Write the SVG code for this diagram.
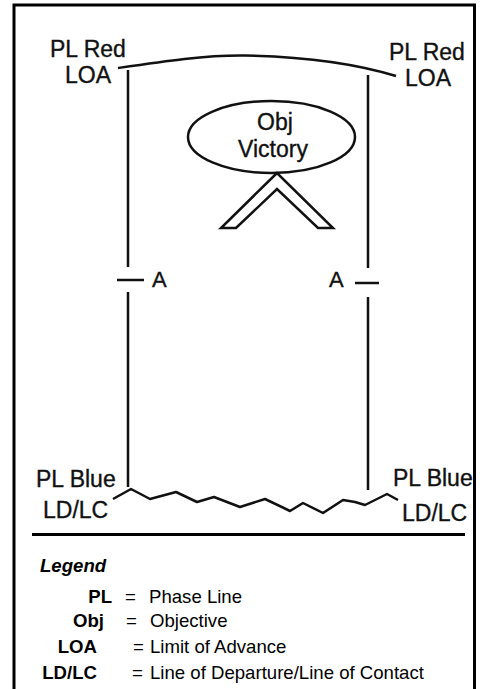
<svg xmlns="http://www.w3.org/2000/svg" width="484" height="689" viewBox="0 0 484 689">
<style>
.lbl{font-family:"Liberation Sans",Arial,sans-serif;font-size:23px;fill:#111;stroke:#111;stroke-width:0.35}
.a{font-family:"Liberation Sans",Arial,sans-serif;font-size:22px;fill:#111;stroke:#111;stroke-width:0.35}
.ln{fill:none;stroke:#111;stroke-width:2.5;stroke-linejoin:round;stroke-linecap:butt}
.lg{font-family:"Liberation Sans",Arial,sans-serif;font-size:18.6px;fill:#000}
.b{font-weight:bold}
</style>
<rect width="484" height="689" fill="#fff"/>
<g id="frame">
<path d="M14,689 V5 H474.5 V689" fill="none" stroke="#000" stroke-width="3"/>
<line x1="32" y1="534.5" x2="465" y2="534.5" stroke="#000" stroke-width="3"/>
</g>
<g id="connectors">
<path class="ln" d="M118,68 C165,61 205,55 245,55.5 C300,56.5 350,62 396,76"/>
<path class="ln" d="M128,70 V267 M128,292 V487"/>
<line class="ln" x1="117" y1="280" x2="144" y2="280"/>
<path class="ln" d="M368,75 V268 M368,297 V490"/>
<line class="ln" x1="355" y1="283" x2="379" y2="283"/>
<path class="ln" d="M113,499 L131,489 L150,499 L176,492 L197,502 L214,497 L240,507 L265,499 L290,511 L303,503 L323,513 L343,500 L355,502 L365,505 L387,494 L398,500"/>
</g>
<g id="pl-red-left">
<text class="lbl" x="50" y="57">PL Red</text>
<text class="lbl" x="65" y="83">LOA</text>
</g>
<g id="pl-red-right">
<text class="lbl" x="389" y="60">PL Red</text>
<text class="lbl" x="405" y="86">LOA</text>
</g>
<g id="obj-victory">
<ellipse cx="271.5" cy="137" rx="83.5" ry="36" fill="none" stroke="#111" stroke-width="2.5"/>
<text class="lbl" x="275" y="130" text-anchor="middle">Obj</text>
<text class="lbl" x="273" y="157" text-anchor="middle">Victory</text>
</g>
<g id="attack-arrow">
<polygon points="277,173 221,228 236,228 277,189 318,228 333,228" fill="#fff" stroke="#111" stroke-width="2.5" stroke-linejoin="miter"/>
</g>
<g id="axis-a-left">
<text class="a" x="152" y="287">A</text>
</g>
<g id="axis-a-right">
<text class="a" x="329" y="287">A</text>
</g>
<g id="pl-blue-left">
<text class="lbl" x="36" y="487">PL Blue</text>
<text class="lbl" x="43" y="518">LD/LC</text>
</g>
<g id="pl-blue-right">
<text class="lbl" x="393" y="486">PL Blue</text>
<text class="lbl" x="402" y="521">LD/LC</text>
</g>
<g id="legend">
<text class="lg b" x="40" y="572" font-style="italic" font-size="17">Legend</text>
<text class="lg b" x="112" y="603" text-anchor="end">PL</text>
<text class="lg" x="125" y="603">=</text>
<text class="lg" x="149" y="603">Phase Line</text>
<text class="lg b" x="104" y="627" text-anchor="end">Obj</text>
<text class="lg" x="126" y="627">=</text>
<text class="lg" x="150" y="627">Objective</text>
<text class="lg b" x="97" y="653" text-anchor="end">LOA</text>
<text class="lg" x="133" y="653">=</text>
<text class="lg" x="150" y="653">Limit of Advance</text>
<text class="lg b" x="97" y="679" text-anchor="end">LD/LC</text>
<text class="lg" x="132" y="679">=</text>
<text class="lg" x="150" y="679">Line of Departure/Line of Contact</text>
</g>
</svg>
